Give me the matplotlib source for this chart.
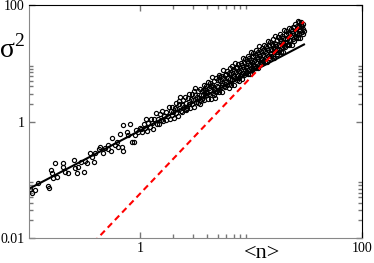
import numpy as np
from matplotlib import pyplot as plt
from matplotlib.ticker import FixedLocator, FixedFormatter, NullFormatter

plt.rcParams['font.family'] = 'Liberation Serif'
plt.rcParams['mathtext.fontset'] = 'custom'
plt.rcParams['mathtext.rm'] = 'Liberation Serif'

# scatter data: <n> and sigma^2
n_low = [0.102, 0.107, 0.113, 0.120, 0.149, 0.151, 0.158, 0.160, 0.166, 0.171, 0.178,
         0.204, 0.204, 0.212, 0.226, 0.256, 0.260, 0.269, 0.278, 0.294, 0.315, 0.320,
         0.331, 0.354, 0.367, 0.388, 0.393, 0.427, 0.436, 0.461, 0.484, 0.512, 0.519,
         0.548, 0.563, 0.595, 0.617, 0.638, 0.660, 0.684, 0.698, 0.708, 0.759, 0.785,
         0.813, 0.842, 0.889, 0.900, 0.915, 0.965, 1.000]
var_low = [0.069, 0.060, 0.067, 0.089, 0.078, 0.073, 0.147, 0.129, 0.106, 0.196, 0.113,
           0.192, 0.168, 0.138, 0.132, 0.219, 0.157, 0.132, 0.164, 0.204, 0.138, 0.212,
           0.192, 0.285, 0.249, 0.204, 0.292, 0.334, 0.370, 0.292, 0.347, 0.334, 0.395,
           0.315, 0.515, 0.395, 0.450, 0.370, 0.610, 0.361, 0.315, 0.870, 0.668, 0.586,
           0.906, 0.450, 0.450, 0.586, 0.715, 0.668, 0.764]

n_1 = [1.02, 1.05, 1.08, 1.10, 1.13, 1.16, 1.19, 1.22, 1.25, 1.28, 1.31, 1.35, 1.38,
       1.41, 1.45, 1.48, 1.52, 1.55, 1.59, 1.62, 1.66, 1.70, 1.73, 1.77, 1.81, 1.85,
       1.89, 1.93, 1.96, 1.99]
var_1 = [0.755, 0.668, 0.919, 0.765, 1.104, 0.687, 0.942, 0.812, 1.119, 0.928, 0.756,
         1.109, 1.419, 0.918, 1.105, 0.909, 1.327, 1.067, 1.494, 1.019, 1.228, 1.082,
         1.472, 1.231, 1.768, 1.095, 1.497, 1.285, 1.755, 1.443]

n_2 = [2.02, 2.06, 2.10, 2.13, 2.17, 2.21, 2.25, 2.29, 2.33, 2.37, 2.41, 2.45, 2.49,
       2.53, 2.57, 2.62, 2.66, 2.70, 2.75, 2.79, 2.84, 2.88, 2.93, 2.97, 3.02, 3.07,
       3.11, 3.16, 3.21, 3.26, 3.31, 3.36, 3.41, 3.46, 3.51, 3.56, 3.61, 3.66, 3.71,
       3.76, 3.81, 3.86, 3.90, 3.94, 3.97, 2.23, 2.61, 3.04, 3.48, 3.88]
var_2 = [1.167, 1.710, 1.410, 2.050, 1.610, 1.236, 1.969, 2.587, 1.543, 1.883, 1.470,
         2.312, 1.775, 2.591, 1.618, 2.040, 1.721, 2.510, 2.001, 3.018, 1.695, 2.469,
         2.032, 2.953, 2.316, 1.775, 2.812, 3.693, 2.198, 2.679, 2.090, 3.283, 2.517,
         3.671, 2.290, 2.872, 2.422, 3.527, 2.799, 4.217, 2.358, 3.432, 2.804, 4.062,
         3.154, 2.223, 1.591, 3.374, 1.960, 3.741]

n_3 = [4.02, 4.07, 4.11, 4.16, 4.21, 4.26, 4.31, 4.36, 4.41, 4.46, 4.52, 4.57, 4.62,
       4.68, 4.73, 4.79, 4.85, 4.90, 4.96, 5.02, 5.08, 5.14, 5.20, 5.26, 5.33, 5.39,
       5.45, 5.52, 5.58, 5.65, 5.72, 5.78, 5.85, 5.92, 5.99, 6.06, 6.13, 6.21, 6.28,
       6.36, 6.43, 6.51, 6.58, 6.66, 6.74, 6.82, 6.90, 6.98, 7.07, 7.15, 7.24, 7.32,
       7.41, 7.50, 7.59, 7.68, 7.77, 7.86, 7.95, 4.33, 4.71, 5.11, 5.49, 5.88, 6.31,
       6.69, 7.03, 7.36, 7.72, 7.98]
var_3 = [3.035, 4.852, 2.436, 3.774, 2.992, 4.584, 3.467, 2.463, 4.257, 5.764, 3.135,
         3.979, 2.906, 4.956, 3.584, 5.577, 3.199, 4.150, 3.368, 5.209, 3.984, 6.367,
         3.205, 4.963, 3.941, 6.039, 4.565, 3.249, 5.614, 7.615, 4.138, 5.250, 3.842,
         6.546, 4.742, 7.375, 4.226, 5.504, 4.463, 6.911, 5.282, 8.451, 4.252, 6.592,
         5.230, 8.020, 6.070, 4.317, 7.481, 10.135, 5.512, 7.001, 5.126, 8.742, 6.337,
         9.860, 5.655, 7.355, 5.969, 4.021, 2.534, 5.842, 4.180, 6.180, 3.703, 9.045,
         6.080, 8.136, 5.033, 8.250]

n_4 = [8.05, 8.12, 8.19, 8.26, 8.33, 8.40, 8.47, 8.55, 8.62, 8.70, 8.77, 8.85, 8.92,
       9.00, 9.08, 9.16, 9.24, 9.32, 9.40, 9.48, 9.56, 9.64, 9.73, 9.81, 9.90, 9.98,
       10.07, 10.16, 10.24, 10.33, 10.42, 10.51, 10.60, 10.70, 10.79, 10.88, 10.98,
       11.07, 11.17, 11.26, 11.36, 11.46, 11.56, 11.66, 11.76, 11.86, 11.97, 12.07,
       12.18, 12.28, 12.39, 12.50, 12.61, 12.72, 12.83, 12.94, 13.05, 13.17, 13.28,
       13.40, 13.51, 13.63, 13.75, 13.87, 13.99, 14.11, 14.24, 14.36, 14.49, 14.61,
       14.74, 14.87, 15.00, 15.13, 15.26, 15.39, 15.53, 15.66, 15.80, 15.94]
var_4 = [6.518, 9.961, 7.513, 5.324, 9.179, 12.395, 6.707, 8.505, 6.197, 10.535, 7.601,
         11.792, 6.732, 8.730, 7.063, 10.893, 8.307, 13.239, 6.646, 10.265, 8.113,
         12.397, 9.361, 6.633, 11.449, 15.460, 8.376, 10.617, 7.735, 13.145, 9.496,
         14.726, 8.417, 10.925, 8.837, 13.624, 10.399, 16.566, 8.325, 12.855, 10.169,
         15.551, 11.738, 8.324, 14.362, 19.409, 10.522, 13.333, 9.733, 16.531, 11.950,
         18.544, 10.606, 13.758, 11.135, 17.179, 13.104, 20.912, 10.503, 16.244, 12.842,
         19.648, 14.838, 10.526, 18.171, 24.568, 13.322, 16.888, 12.332, 20.955, 15.152,
         23.519, 13.455, 17.458, 14.134, 21.812, 16.658, 26.563, 13.355, 20.659]

n_5 = [16.08, 16.22, 16.37, 16.52, 16.67, 16.82, 16.97, 17.12, 17.28, 17.43, 17.59,
       17.75, 17.91, 18.07, 18.23, 18.40, 18.56, 18.73, 18.90, 19.07, 19.24, 19.41,
       19.59, 19.76, 19.94, 20.12, 20.30, 20.49, 20.67, 20.86, 21.05, 21.24, 21.43,
       21.62, 21.82, 22.01, 22.21, 22.41, 22.62, 22.82, 23.03, 23.23, 23.44, 23.66,
       23.87, 24.09, 24.30, 24.52, 24.75, 24.97, 25.20, 25.42, 25.65, 25.89, 26.12,
       26.36, 26.59, 26.84, 27.08, 27.32, 27.57, 27.82, 28.07, 28.33, 28.58, 28.84,
       29.10, 29.37, 29.63, 29.90]
var_5 = [17.440, 12.372, 21.374, 28.923, 15.682, 19.895, 14.525, 24.701, 17.873, 27.738,
         15.879, 20.617, 16.702, 25.790, 19.690, 31.440, 15.803, 24.455, 19.365, 29.645,
         22.400, 15.900, 27.482, 37.175, 20.166, 25.593, 18.693, 31.826, 23.020, 35.764,
         20.480, 26.598, 21.553, 33.290, 25.441, 40.603, 20.428, 31.620, 25.058, 38.368,
         29.014, 20.598, 35.604, 42.000, 26.164, 33.229, 24.272, 41.323, 29.927, 46.492,
         26.638, 34.595, 28.049, 43.372, 33.141, 52.951, 26.637, 41.270, 32.700, 50.089,
         37.890, 26.926, 46.557, 50.873, 34.232, 43.486, 31.790, 47.286, 39.210, 35.339]

# fitted lines (end points)
lin_n = [0.1, 30.0]
lin_var = [0.07, 21.0]
quad_n = [0.38, 30.0]
quad_var = [0.0083, 52.0]

n_all = n_low + n_1 + n_2 + n_3 + n_4 + n_5
var_all = var_low + var_1 + var_2 + var_3 + var_4 + var_5

fig = plt.figure(figsize=(3.74, 2.63), dpi=100)
ax = fig.add_axes([0.0775, 0.095, 0.8905, 0.886])

ax.plot(n_all, var_all, linestyle='none', marker='o', markersize=3,
        markerfacecolor='none', markeredgecolor='black', markeredgewidth=0.85)
ax.plot(lin_n, lin_var, color='black', linewidth=1.5)
ax.plot(quad_n, quad_var, color='red', linestyle=(0, (3, 2)), linewidth=1.5)

ax.set_xscale('log')
ax.set_yscale('log')
ax.set_xlim(0.1, 100)
ax.set_ylim(0.01, 100)

ax.xaxis.set_major_locator(FixedLocator([1, 100]))
ax.xaxis.set_major_formatter(FixedFormatter(['1', '100']))
ax.xaxis.set_minor_locator(FixedLocator([2, 3, 4, 5, 6, 7, 8, 9]))
ax.xaxis.set_minor_formatter(NullFormatter())
ax.yaxis.set_major_locator(FixedLocator([0.01, 1, 100]))
ax.yaxis.set_major_formatter(FixedFormatter(['0.01', '1', '100']))
ax.yaxis.set_minor_locator(FixedLocator([0.02, 0.03, 0.04, 0.05, 0.06, 0.07, 0.08, 0.09,
                                         2, 3, 4, 5, 6, 7, 8, 9]))
ax.yaxis.set_minor_formatter(NullFormatter())

ax.tick_params(which='both', direction='in', top=True, right=True, color='#777777',
               labelsize=10, pad=3)
ax.tick_params(which='major', length=4, width=1)
ax.tick_params(which='minor', length=3, width=1)

for side in ['left', 'bottom']:
    ax.spines[side].set_color('#888888')
for side in ['top', 'right']:
    ax.spines[side].set_color('black')

ax.set_xlabel('<n>', fontsize=16)
ax.set_ylabel(r'$\mathrm{\sigma}^{\mathrm{2}}$', fontsize=20, rotation=0)
ax.yaxis.set_label_coords(-0.05, 0.75)
ax.xaxis.set_label_coords(0.70, -0.025)
ax.xaxis.label.set_verticalalignment('top')

fig.savefig('out.png', dpi=100)
